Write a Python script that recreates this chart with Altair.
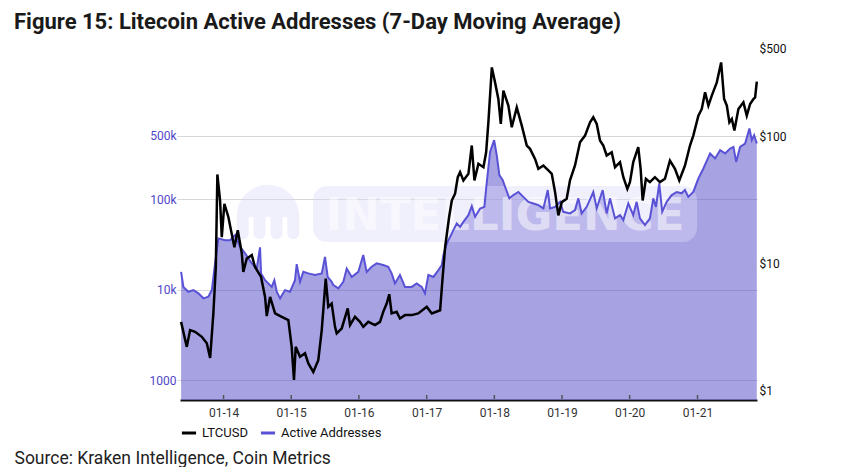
import altair as alt
import pandas as pd

TITLE = "Figure 15: Litecoin Active Addresses (7-Day Moving Average)"
SOURCE = "Source: Kraken Intelligence, Coin Metrics"
SERIES = ["LTCUSD", "Active Addresses"]
SERIES_COLORS = ["#000000", "#5a52d6"]
YEARS = list(range(2014, 2022))
AA_TICKS = [1000, 10000, 100000, 500000]
PRICE_TICKS = [1, 10, 100, 500]
AA_DOMAIN = [601, 4690000]
PRICE_DOMAIN = [0.834, 500]
WATERMARK = "INTELLIGENCE"

# decimal-year positions and LTC price (USD)
price_t = [2013.372, 2013.456, 2013.505, 2013.579, 2013.678, 2013.752, 2013.801, 2013.849, 2013.885, 2013.908,
           2013.948, 2013.973, 2014.012, 2014.071, 2014.160, 2014.210, 2014.269, 2014.292, 2014.343, 2014.417,
           2014.465, 2014.554, 2014.613, 2014.638, 2014.687, 2014.761, 2014.860, 2014.957, 2015.007, 2015.041,
           2015.066, 2015.130, 2015.204, 2015.253, 2015.326, 2015.400, 2015.451, 2015.510, 2015.548, 2015.598,
           2015.647, 2015.672, 2015.746, 2015.835, 2015.869, 2015.942, 2016.016, 2016.065, 2016.139, 2016.238,
           2016.312, 2016.360, 2016.411, 2016.449, 2016.484, 2016.558, 2016.607, 2016.681, 2016.780, 2016.877,
           2017.001, 2017.075, 2017.198, 2017.232, 2017.272, 2017.331, 2017.371, 2017.419, 2017.459, 2017.493,
           2017.542, 2017.616, 2017.666, 2017.705, 2017.764, 2017.838, 2017.878, 2017.911, 2017.962, 2018.010,
           2018.059, 2018.095, 2018.133, 2018.207, 2018.257, 2018.331, 2018.405, 2018.479, 2018.527, 2018.601,
           2018.650, 2018.724, 2018.798, 2018.848, 2018.897, 2018.945, 2018.996, 2019.069, 2019.118, 2019.192,
           2019.266, 2019.340, 2019.414, 2019.462, 2019.513, 2019.561, 2019.610, 2019.660, 2019.734, 2019.783,
           2019.857, 2019.906, 2019.965, 2020.004, 2020.053, 2020.127, 2020.162, 2020.192, 2020.240, 2020.299,
           2020.373, 2020.447, 2020.521, 2020.595, 2020.669, 2020.733, 2020.817, 2020.891, 2020.940, 2021.013,
           2021.063, 2021.112, 2021.161, 2021.211, 2021.285, 2021.349, 2021.393, 2021.433, 2021.471, 2021.507,
           2021.545, 2021.604, 2021.678, 2021.728, 2021.777, 2021.826, 2021.851, 2021.876]
price_v = [3.45, 2.19, 2.97, 2.88, 2.63, 2.34, 1.79, 4.04, 9.35, 50.2,
           31.3, 16.1, 29.5, 23.2, 13.4, 18.2, 12.0, 8.54, 10.9, 11.6,
           9.35, 7.80, 5.43, 3.83, 5.43, 4.02, 3.78, 3.56, 2.19, 1.20,
           2.19, 1.83, 1.95, 1.62, 1.39, 1.72, 2.97, 7.58, 4.53, 4.81,
           3.15, 2.80, 3.06, 4.40, 3.25, 3.78, 3.45, 3.15, 3.45, 3.25,
           3.45, 4.14, 4.81, 5.70, 4.02, 4.14, 3.67, 3.90, 3.90, 4.02,
           4.53, 4.02, 4.26, 7.35, 13.4, 23.2, 31.3, 35.4, 47.8, 52.4,
           45.1, 50.8, 85.0, 45.1, 61.0, 57.3, 75.2, 129.6, 351.5, 267.7,
           198.0, 125.9, 230.3, 175.4, 118.4, 170.1, 122.1, 85.0, 80.0, 66.7,
           55.7, 59.1, 54.0, 50.8, 36.4, 23.9, 30.4, 32.3, 45.1, 59.1,
           90.2, 101.8, 129.6, 141.9, 125.9, 93.0, 85.0, 70.9, 75.2, 57.3,
           62.8, 47.8, 38.7, 43.7, 62.8, 82.4, 55.7, 31.3, 46.4, 43.7,
           47.8, 43.7, 46.4, 64.7, 55.7, 45.1, 59.1, 85.0, 101.8, 146.3,
           165.2, 223.3, 175.4, 210.3, 267.7, 384.6, 198.0, 175.4, 129.6, 137.8,
           111.5, 165.2, 186.2, 146.3, 180.9, 198.0, 203.9, 271.0]

# decimal-year positions and active addresses (7-day MA)
aa_t = [2013.372, 2013.406, 2013.480, 2013.554, 2013.628, 2013.702, 2013.775, 2013.826, 2013.874, 2013.923,
        2014.022, 2014.096, 2014.170, 2014.244, 2014.318, 2014.417, 2014.490, 2014.539, 2014.554, 2014.613,
        2014.712, 2014.750, 2014.786, 2014.835, 2014.908, 2014.982, 2015.056, 2015.081, 2015.130, 2015.179,
        2015.253, 2015.352, 2015.451, 2015.499, 2015.539, 2015.598, 2015.622, 2015.696, 2015.770, 2015.820,
        2015.894, 2015.991, 2016.065, 2016.115, 2016.189, 2016.263, 2016.360, 2016.434, 2016.484, 2016.533,
        2016.607, 2016.681, 2016.780, 2016.854, 2016.928, 2016.976, 2017.025, 2017.099, 2017.173, 2017.223,
        2017.247, 2017.297, 2017.346, 2017.394, 2017.444, 2017.493, 2017.542, 2017.616, 2017.666, 2017.715,
        2017.789, 2017.852, 2017.888, 2017.936, 2017.996, 2018.035, 2018.074, 2018.124, 2018.158, 2018.222,
        2018.281, 2018.355, 2018.428, 2018.502, 2018.576, 2018.650, 2018.724, 2018.789, 2018.823, 2018.897,
        2018.970, 2019.019, 2019.118, 2019.192, 2019.241, 2019.291, 2019.365, 2019.462, 2019.513, 2019.601,
        2019.660, 2019.709, 2019.783, 2019.857, 2019.906, 2019.979, 2020.053, 2020.103, 2020.152, 2020.226,
        2020.299, 2020.349, 2020.388, 2020.437, 2020.481, 2020.547, 2020.621, 2020.695, 2020.768, 2020.817,
        2020.866, 2020.940, 2021.013, 2021.087, 2021.186, 2021.260, 2021.334, 2021.408, 2021.482, 2021.531,
        2021.571, 2021.629, 2021.703, 2021.767, 2021.802, 2021.836, 2021.876]
aa_v = [15700, 10700, 9460, 9870, 9080, 8000, 8320, 9870, 19500, 36800,
        35200, 35200, 40000, 29700, 25100, 19500, 17100, 29300, 15100, 12700,
        10700, 12700, 9460, 8000, 9870, 9460, 12700, 19100, 12200, 15700,
        15100, 14500, 15100, 23000, 13800, 12200, 11200, 10300, 12200, 17100,
        13800, 15700, 24100, 15700, 17900, 19500, 18700, 17900, 15100, 11700,
        14500, 10700, 10700, 11700, 10700, 9080, 14500, 13800, 16400, 18700,
        24100, 32400, 38300, 45400, 53900, 49400, 56100, 66500, 83700, 63700,
        78900, 82200, 155000, 333000, 449000, 306000, 184000, 162000, 137000, 102000,
        111000, 120000, 106000, 93300, 89600, 85900, 78900, 126000, 78900, 82200,
        93300, 72400, 69500, 75600, 102000, 69500, 82200, 120000, 78900, 126000,
        69500, 102000, 61200, 66500, 58600, 89600, 66500, 93300, 61200, 51600,
        61200, 102000, 82200, 149000, 72400, 93300, 111000, 120000, 116000, 126000,
        106000, 120000, 169000, 218000, 320000, 282000, 348000, 320000, 363000, 378000,
        258000, 378000, 412000, 604000, 449000, 509000, 412000]


def to_ts(t):
    y = int(t)
    return pd.Timestamp(year=y, month=1, day=1) + pd.Timedelta(days=(t - y) * 365.25)


price_df = pd.DataFrame({"date": [to_ts(t) for t in price_t], "price": price_v, "series": SERIES[0]})
aa_df = pd.DataFrame({"date": [to_ts(t) for t in aa_t], "aa": aa_v, "series": SERIES[1]})
tick_df = pd.DataFrame({"date": [pd.Timestamp(year=y, month=1, day=1) for y in YEARS]})
wm_df = pd.DataFrame({"label": [WATERMARK]})

FONT = "Roboto"
W, H = 577, 352

xscale = alt.Scale(domain=[alt.DateTime(year=2013, month=5, date=11),
                           alt.DateTime(year=2021, month=11, date=18)])
x_axis = alt.Axis(
    values=[alt.DateTime(year=y, month=1, date=1) for y in YEARS],
    format="%m-%y", grid=False, ticks=False,
    domainColor="#111111", domainWidth=2,
    labelFont=FONT, labelFontSize=12, labelColor="#333333", labelPadding=7,
    title=SOURCE, titleX=-166, titleY=63, titleAlign="left", titleBaseline="alphabetic",
    titleFont=FONT, titleFontSize=17.5, titleFontWeight="normal", titleColor="#222222",
)
x_enc = alt.X("date:T", scale=xscale, axis=x_axis)
x_plain = alt.X("date:T", scale=xscale)

aa_scale = alt.Scale(type="log", domain=AA_DOMAIN, nice=False, zero=False)
price_scale = alt.Scale(type="log", domain=PRICE_DOMAIN, nice=False, zero=False)

aa_axis = alt.Axis(
    values=AA_TICKS, orient="left", title=None, domain=False,
    labelExpr="datum.value >= 10000 ? format(datum.value / 1000, 'd') + 'k' : format(datum.value, 'd')",
    labelFont=FONT, labelFontSize=12, labelColor="#4f47c9", labelPadding=1,
    tickSize=3, tickColor="#d6d6d6", gridColor="#d6d6d6", gridWidth=1,
)
price_axis = alt.Axis(
    values=PRICE_TICKS, orient="right", title=None, domain=False,
    labelExpr="'$' + datum.value",
    labelFont=FONT, labelFontSize=12, labelColor="#111111", labelPadding=2,
    tickSize=0, gridColor="#d6d6d6", gridWidth=1,
)

legend = alt.Legend(
    orient="none", legendX=0, legendY=376, direction="horizontal", title=None,
    symbolType="stroke", symbolStrokeWidth=3, symbolSize=200,
    labelFont=FONT, labelFontSize=13, labelColor="#111111",
    columnPadding=6, labelOffset=4,
)
color_scale = alt.Scale(domain=SERIES, range=SERIES_COLORS)

area = alt.Chart(aa_df).mark_area(color="#5048c8", opacity=0.5).encode(
    x=x_enc,
    y=alt.Y("aa:Q", scale=aa_scale, axis=aa_axis),
    y2=alt.datum(AA_DOMAIN[0]),
)

wm_rect = alt.Chart(wm_df).mark_rect(color="#dcd9f7", opacity=0.42, cornerRadius=14).encode(
    x=alt.value(133), x2=alt.value(517), y=alt.value(138), y2=alt.value(194)
)
LOGO = ("M -1 0.55 L -1 0 A 1 1 0 0 1 1 0 L 1 0.55 A 0.19 0.19 0 0 1 0.62 0.55 "
        "L 0.62 0.1 A 0.08 0.08 0 0 0 0.46 0.1 L 0.46 0.55 A 0.19 0.19 0 0 1 0.08 0.55 "
        "L 0.08 0.1 A 0.08 0.08 0 0 0 -0.08 0.1 L -0.08 0.55 A 0.19 0.19 0 0 1 -0.46 0.55 "
        "L -0.46 0.1 A 0.08 0.08 0 0 0 -0.62 0.1 L -0.62 0.55 A 0.19 0.19 0 0 1 -1 0.55 Z")
wm_logo = alt.Chart(wm_df).mark_point(shape=LOGO, filled=True, color="#dcd9f7", opacity=0.42, size=3900).encode(
    x=alt.value(88), y=alt.value(168)
)
wm_text = alt.Chart(wm_df).mark_text(
    font="DejaVu Sans", fontSize=45, fontWeight="bold", color="#ffffff", opacity=0.5,
    align="center", baseline="middle"
).encode(x=alt.value(325), y=alt.value(168), text="label:N")

color_enc = alt.Color("series:N", scale=color_scale, legend=legend)

aa_line = alt.Chart(aa_df).mark_line(strokeWidth=2).encode(
    x=x_plain,
    y=alt.Y("aa:Q", scale=aa_scale, axis=None),
    color=color_enc,
)

price_line = alt.Chart(price_df).mark_line(strokeWidth=2.5).encode(
    x=x_plain,
    y=alt.Y("price:Q", scale=price_scale, axis=price_axis),
    color=color_enc,
)

ticks = alt.Chart(tick_df).mark_rule(color="#555555", strokeWidth=1.5).encode(
    x=x_plain, y=alt.value(H - 5), y2=alt.value(H - 1)
)

chart = alt.layer(area, wm_rect, wm_logo, wm_text, aa_line, price_line, ticks).resolve_scale(
    y="independent"
).properties(
    width=W, height=H,
    autosize=alt.AutoSizeParams(type="none"),
    padding={"left": 172, "top": 40, "right": 76, "bottom": 67},
    title=alt.Title(TITLE, anchor="start", frame="group", dx=-166, dy=6, offset=14,
                    font=FONT, fontSize=22, fontWeight="bold", color="#1a1a1a"),
).configure_view(stroke=None)

chart.save("out.html", embed_options={"renderer": "svg", "actions": False})
